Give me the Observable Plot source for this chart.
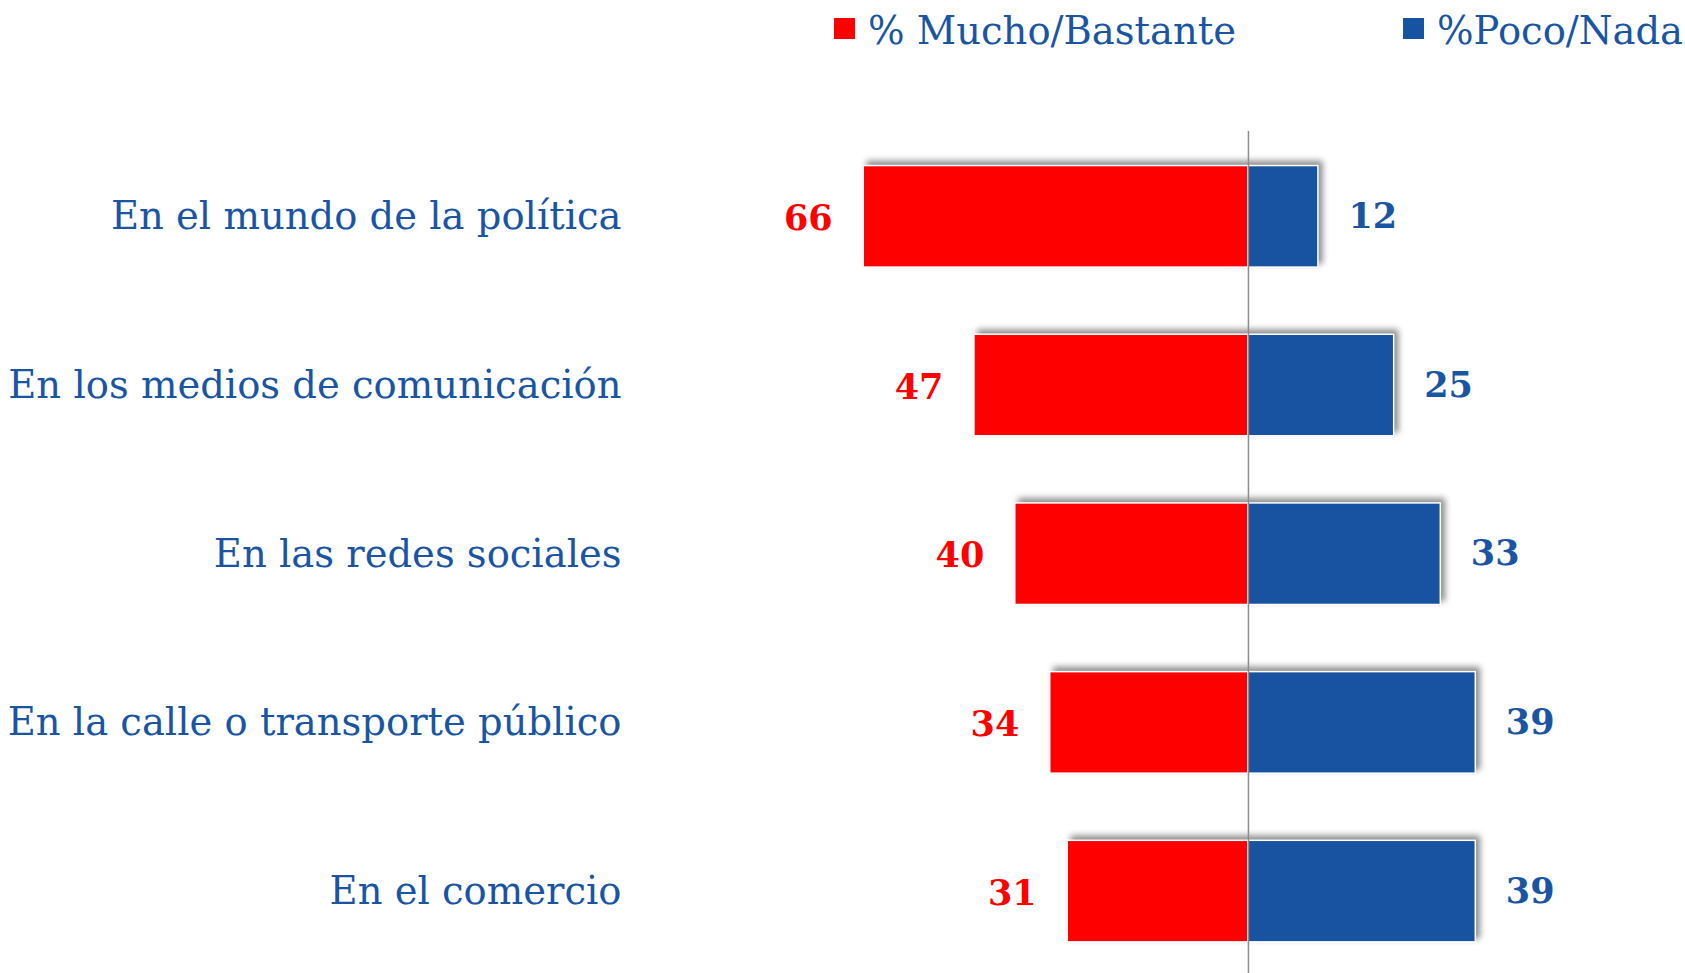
<!DOCTYPE html>
<html>
<head>
<meta charset="utf-8">
<script src="https://cdn.jsdelivr.net/npm/d3@7"></script>
<script src="https://cdn.jsdelivr.net/npm/@observablehq/plot@0.6"></script>
<style>
  html, body { margin: 0; padding: 0; background: #fff; }
  body { width: 1685px; height: 973px; overflow: hidden; font-family: "DejaVu Serif", serif; }
  #legend { position: relative; height: 60px; }
  .item { position: absolute; top: 0; height: 60px; display: flex; align-items: center; color: #1a55a3; font-size: 38.5px; white-space: nowrap; }
  .sw { width: 21px; height: 21px; margin-right: 13px; margin-top: -4px; }
  #chart svg .bars { filter: drop-shadow(4px -4px 3px rgba(0,0,0,0.45)); }
</style>
</head>
<body>
<div id="legend"></div>
<div id="chart"></div>
<script>
const categories = [
  "En el mundo de la política",
  "En los medios de comunicación",
  "En las redes sociales",
  "En la calle o transporte público",
  "En el comercio"
];
const muchoBastante = [66, 47, 40, 34, 31];
const pocoNada = [12, 25, 33, 39, 39];
const seriesNames = ["% Mucho/Bastante", "%Poco/Nada"];
const seriesColors = ["#ff0000", "#1753a1"];
const textBlue = "#1a55a3";

const rows = [];
categories.forEach((c, i) => {
  rows.push({category: c, series: seriesNames[0], value: -muchoBastante[i], label: muchoBastante[i]});
  rows.push({category: c, series: seriesNames[1], value: pocoNada[i], label: pocoNada[i]});
});
const red = rows.filter(d => d.series === seriesNames[0]);
const blue = rows.filter(d => d.series === seriesNames[1]);

// Legend
const legend = document.getElementById("legend");
const legendLefts = [834, 1403];
seriesNames.forEach((s, i) => {
  const it = document.createElement("div");
  it.className = "item";
  it.style.left = legendLefts[i] + "px";
  it.innerHTML = `<div class="sw" style="background:${seriesColors[i]}"></div><span>${s}</span>`;
  legend.appendChild(it);
});

const plot = Plot.plot({
  width: 1685,
  height: 913,
  marginTop: 71,
  marginBottom: 0,
  marginLeft: 621,
  marginRight: 0,
  style: {fontFamily: "'DejaVu Serif', serif", background: "#fff"},
  x: {domain: [-100, 70], range: [665, 1656], axis: null},
  y: {domain: categories, range: [38.4, 949], padding: 0.398, round: false, axis: null},
  marks: [
    Plot.barX(rows, {
      y: "category", x: "value",
      fill: d => d.series === seriesNames[0] ? seriesColors[0] : seriesColors[1],
      stroke: "#fff", strokeWidth: 1.5,
      className: "bars"
    }),
    Plot.ruleX([0], {stroke: "#8c8c8c", strokeWidth: 1.5}),
    Plot.axisY({anchor: "left", tickSize: 0, tickPadding: 0, fontSize: 38.5, fill: textBlue, label: null}),
    Plot.text(red, {
      y: "category", x: "value", text: d => String(d.label),
      textAnchor: "end", dx: -31, dy: 2, fontSize: 35, fontWeight: "bold", fill: seriesColors[0]
    }),
    Plot.text(blue, {
      y: "category", x: "value", text: d => String(d.label),
      textAnchor: "start", dx: 30, dy: 0, fontSize: 35, fontWeight: "bold", fill: textBlue
    })
  ]
});
document.getElementById("chart").appendChild(plot);
</script>
</body>
</html>
